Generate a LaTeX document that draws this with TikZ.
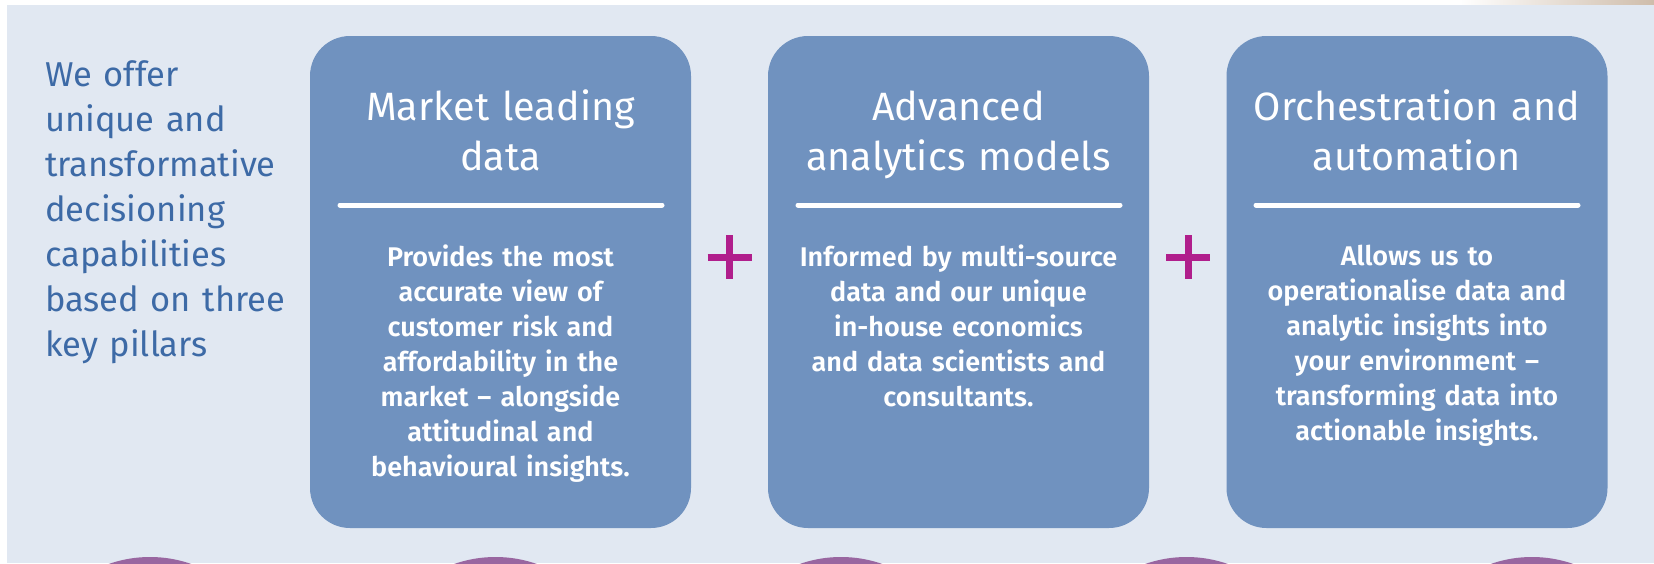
\documentclass[tikz,border=0pt]{standalone}
\usepackage{fontspec}
\setmainfont{Fira Sans}
\newfontfamily\semifont{Fira Sans SemiBold}
\usepackage{xcolor}
\usetikzlibrary{shapes}

\definecolor{panelbg}{HTML}{E1E8F2}
\definecolor{pillarblue}{HTML}{7092BF}
\definecolor{introblue}{HTML}{3D6AA6}
\definecolor{plusmagenta}{HTML}{B01E8C}
\definecolor{dotpurple}{HTML}{9966A0}

\tikzstyle{pillar} = [fill=pillarblue, rounded corners=40pt, minimum width=381pt, minimum height=492pt, inner sep=0pt]
\tikzstyle{ptitle} = [text=white, text width=370pt, align=center, inner sep=0pt, font=\fontsize{39.5}{50}\selectfont]
\tikzstyle{pbody} = [text=white, text width=370pt, align=center, inner sep=0pt, font=\semifont\fontsize{27}{35}\selectfont]
\tikzstyle{rule} = [white, line width=5pt, line cap=round]
\tikzstyle{plus} = [plusmagenta, line width=7pt]

\begin{document}
\begin{tikzpicture}[x=1pt, y=-1pt]
    \useasboundingbox (0,0) rectangle (1654,563);
    \fill[white] (0,0) rectangle (1654,563);
    \shade[left color=white, right color=black!30!brown!40] (1460,0) rectangle (1654,5);
    \fill[panelbg] (7,5) rectangle (1654,563);

    % purple dots running off the bottom edge
    \begin{scope}
        \clip (0,0) rectangle (1654,563);
        \foreach \i in {0,...,4}
            \fill[dotpurple] (150+345.5*\i, 682) circle[radius=125pt];
    \end{scope}

    % intro
    \node[anchor=base west, text width=260pt, align=left, inner sep=0pt, text=introblue,
          font=\fontsize{34.5}{45}\selectfont] (intro) at (45,86)
          {We offer\\unique and\\transformative\\decisioning\\capabilities\\based on three\\key pillars};

    % pillar 1
    \node[pillar] (p1) at (500.5,282) {};
        \node[ptitle, anchor=base] (t1) at (500.5,120) {Market leading\\data};
        \draw[rule] (340,205) -- (662,205);
        \node[pbody, anchor=base] (b1) at (500.5,266) {Provides the most\\accurate view of\\customer risk and\\affordability in the\\market – alongside\\attitudinal and\\behavioural insights.};

    % pillar 2
    \node[pillar] (p2) at (958.5,282) {};
        \node[ptitle, anchor=base] (t2) at (958.5,120) {Advanced\\analytics models};
        \draw[rule] (798,205) -- (1120,205);
        \node[pbody, anchor=base] (b2) at (958.5,266) {Informed by multi-source\\data and our unique\\in-house economics\\and data scientists and\\consultants.};

    % pillar 3
    \node[pillar] (p3) at (1417,282) {};
        \node[ptitle, anchor=base] (t3) at (1417,120) {Orchestration and\\automation};
        \draw[rule] (1256,205) -- (1578,205);
        \node[pbody, anchor=base] (b3) at (1417,265) {Allows us to\\operationalise data and\\analytic insights into\\your environment –\\transforming data into\\actionable insights.};

    % plus signs between the pillars
    \draw[plus] (729.5,235) -- (729.5,279) (707.5,257) -- (751.5,257);
    \draw[plus] (1188,235) -- (1188,279) (1166,257) -- (1210,257);

\end{tikzpicture}
\end{document}
